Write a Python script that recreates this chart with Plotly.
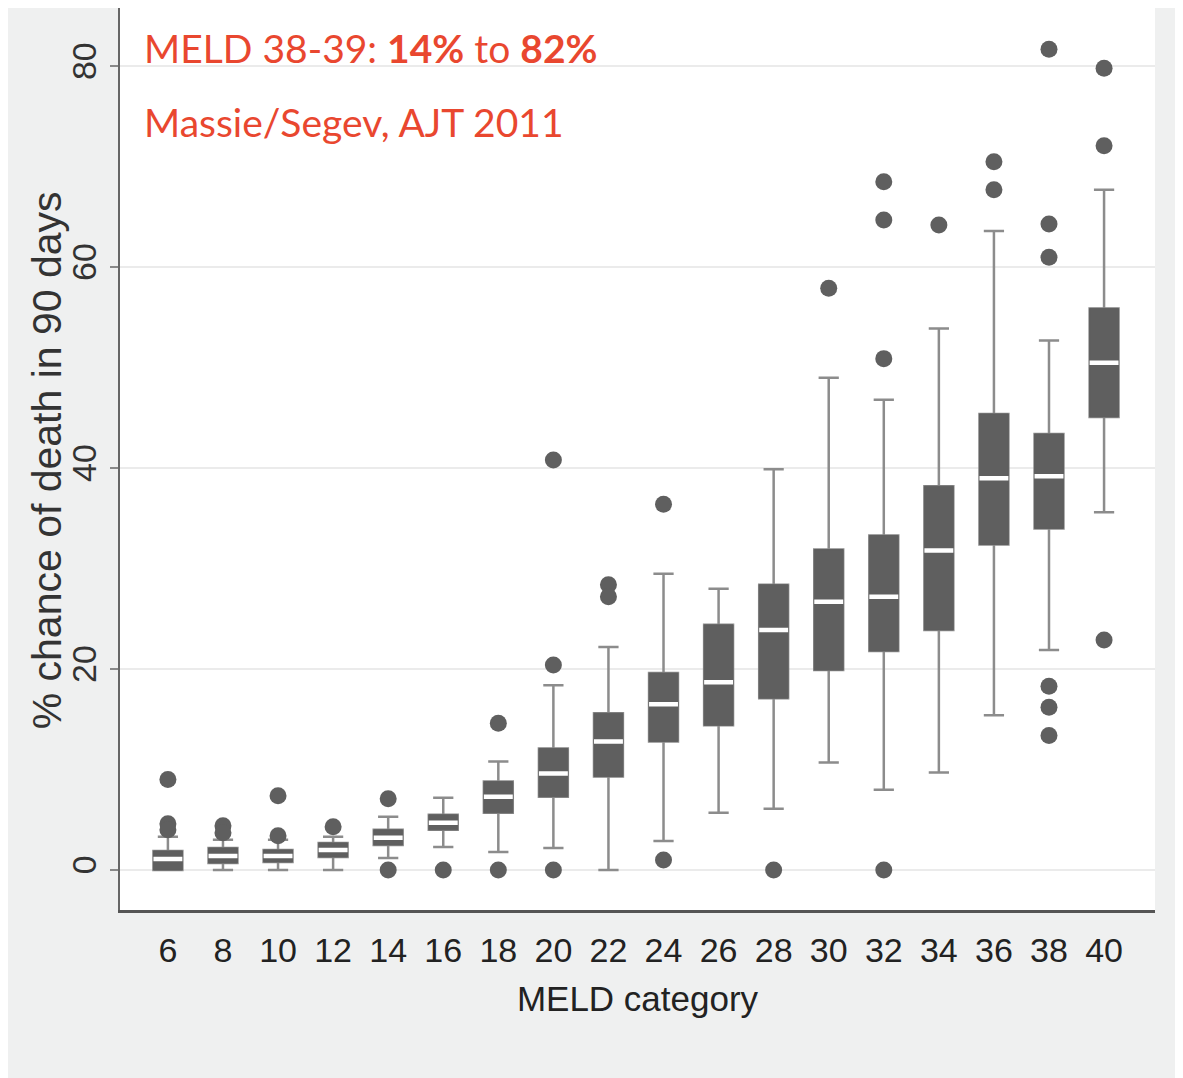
import plotly.graph_objects as go

# MELD categories
meld = [6, 8, 10, 12, 14, 16, 18, 20, 22, 24, 26, 28, 30, 32, 34, 36, 38, 40]
tick_labels = [str(m) for m in meld]

# box statistics (% chance of death in 90 days)
q1 = [0.0, 0.7, 0.8, 1.3, 2.5, 4.0, 5.7, 7.3, 9.3, 12.8, 14.4, 17.1, 19.9, 21.8, 23.9, 32.4, 34.0, 45.1]
median = [1.1, 1.4, 1.4, 2.0, 3.2, 4.7, 7.3, 9.6, 12.8, 16.5, 18.7, 23.9, 26.7, 27.2, 31.8, 39.0, 39.2, 50.5]
q3 = [1.9, 2.2, 2.0, 2.7, 4.0, 5.5, 8.8, 12.1, 15.6, 19.6, 24.4, 28.4, 31.9, 33.3, 38.2, 45.4, 43.4, 55.9]
lower_whisker = [0.0, 0.0, 0.0, 0.0, 1.2, 2.3, 1.8, 2.2, 0.0, 2.9, 5.7, 6.1, 10.7, 8.0, 9.7, 15.4, 21.9, 35.6]
upper_whisker = [3.3, 3.0, 3.0, 3.3, 5.3, 7.2, 10.8, 18.4, 22.2, 29.5, 28.0, 39.9, 49.0, 46.8, 53.9, 63.6, 52.7, 67.7]

# outliers
outlier_meld = [6, 6, 6, 8, 8, 10, 10, 12, 14, 14, 16, 18, 18, 20, 20, 20,
                22, 22, 24, 24, 28, 30, 32, 32, 32, 32, 34, 36, 36,
                38, 38, 38, 38, 38, 38, 40, 40, 40]
outlier_val = [9.0, 4.6, 4.0, 4.4, 3.7, 7.4, 3.4, 4.3, 7.1, 0.0, 0.0, 14.6, 0.0, 40.8, 20.4, 0.0,
               28.4, 27.2, 36.4, 1.0, 0.0, 57.9, 68.5, 64.7, 50.9, 0.0, 64.2, 70.5, 67.7,
               81.7, 64.3, 61.0, 18.3, 16.2, 13.4, 79.8, 72.1, 22.9]

BOX_W = 1.05
DARK = "#5f5f5f"
WHISK = "#8c8c8c"
SANS = "Liberation Sans, Arial, sans-serif"
RED_FONT = "Lato, Liberation Sans, sans-serif"

fig = go.Figure()

# whiskers + caps
fig.add_trace(go.Box(
    x=meld, q1=q1, median=median, q3=q3,
    lowerfence=lower_whisker, upperfence=upper_whisker,
    width=BOX_W, whiskerwidth=0.7, boxpoints=False,
    line=dict(color=WHISK, width=2.5), fillcolor=DARK,
    hoverinfo="skip", showlegend=False,
))
# solid dark boxes
fig.add_trace(go.Box(
    x=meld, q1=q1, median=median, q3=q3,
    lowerfence=q1, upperfence=q3,
    width=BOX_W, whiskerwidth=0, boxpoints=False,
    line=dict(color=DARK, width=1), fillcolor=DARK,
    hoverinfo="skip", showlegend=False,
))
# white median lines
fig.add_trace(go.Box(
    x=meld, q1=median, median=median, q3=median,
    lowerfence=median, upperfence=median,
    width=BOX_W, whiskerwidth=0, boxpoints=False,
    line=dict(color="white", width=4.5), fillcolor="white",
    hoverinfo="skip", showlegend=False,
))
# outliers
fig.add_trace(go.Scatter(
    x=outlier_meld, y=outlier_val, mode="markers",
    marker=dict(color=DARK, size=17, line=dict(width=0)),
    hoverinfo="skip", showlegend=False,
))

fig.update_layout(
    width=1175, height=1070,
    margin=dict(l=112, r=28, t=0, b=168),
    paper_bgcolor="#eff0f0", plot_bgcolor="white",
    boxmode="overlay",
    font=dict(family=SANS, color="#222222"),
    xaxis=dict(
        range=[4.26, 41.85], tickvals=meld, ticktext=tick_labels,
        showgrid=False, zeroline=False,
        showline=True, linecolor="#555555", linewidth=3,
        ticks="", tickfont=dict(size=34, family=SANS, color="#222222"),
        ticklabelstandoff=8,
        title=dict(text="MELD category", font=dict(size=35, family=SANS, color="#222222"), standoff=19),
    ),
    yaxis=dict(
        range=[-3.98, 85.8], tickvals=[0, 20, 40, 60, 80],
        showgrid=True, gridcolor="#ebebeb", gridwidth=2, zeroline=False,
        showline=True, linecolor="#666666", linewidth=2,
        ticks="outside", ticklen=8, tickwidth=2, tickcolor="#888888",
        tickangle=-90, tickfont=dict(size=34, family=SANS, color="#333333"),
    ),
    annotations=[
        dict(text="% chance of death in 90 days", xref="paper", yref="paper",
             x=-0.071, y=0.498, xanchor="center", yanchor="middle", textangle=-90,
             showarrow=False, font=dict(size=41, family=SANS, color="#333333")),
        dict(text="MELD 38-39: <b>14%</b> to <b>82%</b>", xref="paper", yref="paper",
             x=0.021, y=0.956, xanchor="left", yanchor="middle", showarrow=False,
             font=dict(size=39, family=RED_FONT, color="#e9472f")),
        dict(text="Massie/Segev, AJT 2011", xref="paper", yref="paper",
             x=0.021, y=0.874, xanchor="left", yanchor="middle", showarrow=False,
             font=dict(size=39, family=RED_FONT, color="#e9472f")),
    ],
)

fig.write_html("out.html")
